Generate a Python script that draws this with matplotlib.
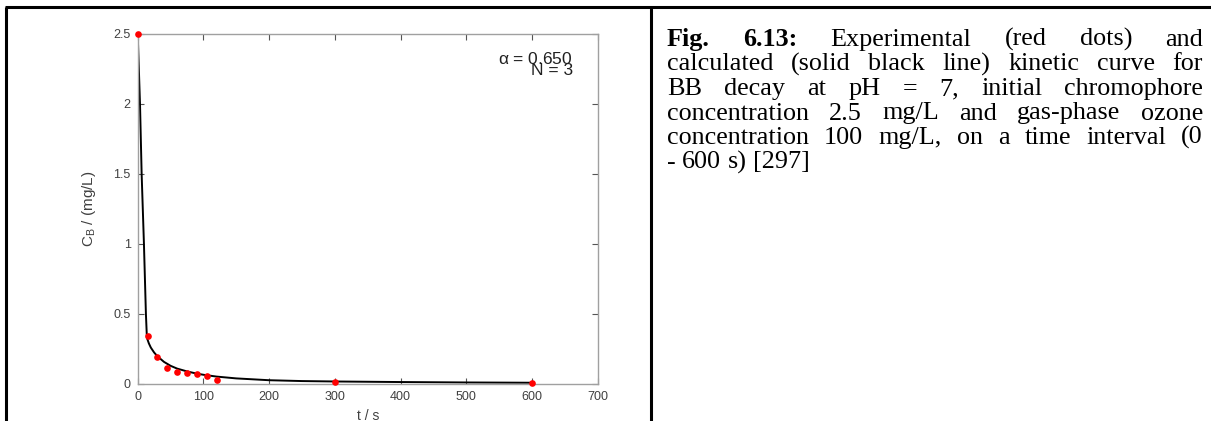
import matplotlib
matplotlib.use('Agg')
import matplotlib.pyplot as plt

# experimental points (red dots)
t_exp = [0, 15, 30, 45, 60, 75, 90, 105, 120, 300, 600]
c_exp = [2.5, 0.34, 0.195, 0.117, 0.085, 0.077, 0.07, 0.06, 0.027, 0.017, 0.01]

# calculated kinetic curve (solid black line)
t_calc = [0, 3.5, 6, 9.5, 12.5, 14, 17, 20, 25, 30, 40, 50, 60, 75, 90, 100,
          120, 150, 200, 250, 300, 400, 500, 600]
c_calc = [2.5, 2.0, 1.5, 1.0, 0.5, 0.33, 0.29, 0.26, 0.225, 0.198, 0.158, 0.13,
          0.11, 0.09, 0.074, 0.066, 0.053, 0.04, 0.027, 0.021, 0.018, 0.014,
          0.011, 0.009]

x_ticks = [0, 100, 200, 300, 400, 500, 600, 700]
y_ticks = [0, 0.5, 1, 1.5, 2, 2.5]
y_labels = ['0', '0.5', '1', '1.5', '2', '2.5']

caption = [
    [("Fig.", True), ("6.13:", True), ("Experimental", False), ("(red", False),
     ("dots)", False), ("and", False)],
    [(w, False) for w in "calculated (solid black line) kinetic curve for".split()],
    [(w, False) for w in "BB decay at pH = 7, initial chromophore".split()],
    [(w, False) for w in "concentration 2.5 mg/L and gas-phase ozone".split()],
    [(w, False) for w in "concentration 100 mg/L, on a time interval (0".split()],
    [(w, False) for w in "- 600 s) [297]".split()],
]

W, H = 1211, 421
fig = plt.figure(figsize=(W / 100, H / 100), dpi=100)

# plot panel
ax = fig.add_axes([137.7 / W, 1 - 384 / H, 460 / W, 350 / H])
ax.plot(t_calc, c_calc, color='black', lw=1.4, zorder=2)
ax.plot(t_exp, c_exp, 'o', color='#ff0000', ms=4.8, mec='none', zorder=3,
        clip_on=False)
ax.set_xlim(0, 700)
ax.set_ylim(0, 2.5)
ax.set_xticks(x_ticks)
ax.set_yticks(y_ticks)
ax.set_yticklabels(y_labels)
for s in ax.spines.values():
    s.set_color('#a0a0a0')
    s.set_linewidth(1.0)
ax.tick_params(direction='in', length=4, width=0.8, color='#555555',
               top=True, right=True, labelsize=9, labelcolor='#404040', pad=5,
               labelfontfamily='Liberation Sans')
ax.set_xlabel('t / s', fontsize=10, color='#404040', family='Liberation Sans',
              labelpad=4)
ax.set_ylabel(r'$\mathregular{C_B}$ / (mg/L)', fontsize=11, color='#404040',
              family='Liberation Sans', labelpad=11)
ax.text(0.946, 0.929, r'$\mathregular{\alpha}$ = 0.650', transform=ax.transAxes,
        ha='right', va='center', fontsize=12.5, family='Liberation Sans',
        color='#202020')
ax.text(0.946, 0.897, 'N = 3', transform=ax.transAxes, ha='right',
        va='center', fontsize=12.5, family='Liberation Sans', color='#202020')

# table borders
lk = dict(color='black', lw=2.2, solid_capstyle='butt')
fig.add_artist(plt.Line2D([5 / W, 1], [1 - 6.5 / H] * 2, **lk))
fig.add_artist(plt.Line2D([6 / W] * 2, [0, 1 - 6.5 / H], **lk))
fig.add_artist(plt.Line2D([651 / W] * 2, [0, 1 - 6.5 / H], **lk))
fig.text(36 / W, 1 + 9 / H, 'g', family='Liberation Serif', fontsize=19,
         va='baseline', ha='left')

# justified caption
fig.canvas.draw()
r = fig.canvas.get_renderer()
x0, x1 = 667, 1203
fs = 18.8
y = 46
lh = 24.5
for i, line in enumerate(caption):
    arts = []
    for w, b in line:
        arts.append(fig.text(0, 0, w, family='Liberation Serif', fontsize=fs,
                             weight='bold' if b else 'normal', va='baseline'))
    widths = [a.get_window_extent(r).width for a in arts]
    if i == len(caption) - 1:
        gap = 0.25 * fs * 100 / 72
    else:
        gap = (x1 - x0 - sum(widths)) / (len(arts) - 1)
    x = x0
    for a, wd in zip(arts, widths):
        a.set_position((x / W, 1 - y / H))
        x += wd + gap
    y += lh

fig.savefig('out.png', dpi=100)
